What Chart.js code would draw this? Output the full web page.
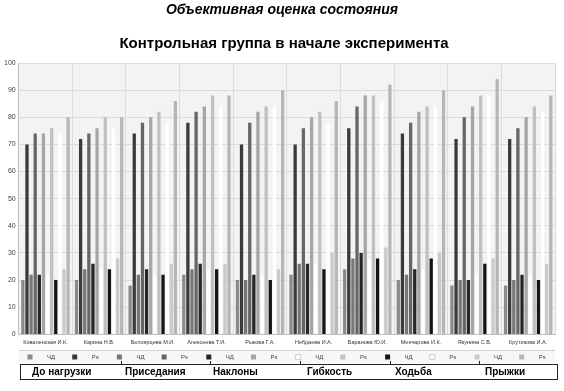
<!DOCTYPE html>
<html>
<head>
<meta charset="utf-8">
<script src="https://cdn.jsdelivr.net/npm/chart.js@4"></script>
<style>
  html, body { margin: 0; padding: 0; background: #fff; }
  #wrap { width: 564px; height: 391px; position: relative; }
</style>
</head>
<body>
<div id="wrap"><canvas id="chart" width="564" height="391"></canvas></div>
<script>
// данные
let categories = ['Коваленская И.К.', 'Карина Н.В.', 'Белоярцева М.И.', 'Алексеева Т.И.', 'Рыкова Г.А.',
  'Небдаева И.А.', 'Баранова Ю.И.', 'Менчарова И.К.', 'Якунина С.В.', 'Крутикова И.А.'];
let phases = ['До нагрузки', 'Приседания', 'Наклоны', 'Гибкость', 'Ходьба', 'Прыжки'];
let yTicks = [0, 10, 20, 30, 40, 50, 60, 70, 80, 90, 100];

let chdRest = [20, 20, 18, 22, 20, 22, 24, 20, 18, 18];
let psRest = [70, 72, 74, 78, 70, 70, 76, 74, 72, 72];
let chdSquat = [22, 24, 22, 24, 20, 26, 28, 22, 20, 20];
let psSquat = [74, 74, 78, 82, 78, 76, 84, 78, 80, 76];
let chdBend = [22, 26, 24, 26, 22, 26, 30, 24, 20, 22];
let psBend = [74, 76, 80, 84, 82, 80, 88, 82, 84, 80];
let chdFlex = [22, 24, 22, 24, 22, 26, 28, 24, 22, 22];
let psFlex = [76, 80, 82, 88, 84, 82, 88, 84, 88, 84];
let chdWalk = [20, 24, 22, 24, 20, 24, 28, 28, 26, 20];
let psWalk = [74, 76, 78, 84, 84, 78, 86, 84, 88, 82];
let chdJump = [24, 28, 26, 26, 24, 30, 32, 30, 28, 26];
let psJump = [80, 80, 86, 88, 90, 86, 92, 90, 94, 88];

let seriesData = [chdRest, psRest, chdSquat, psSquat, chdBend, psBend, chdFlex, psFlex, chdWalk, psWalk, chdJump, psJump];
let seriesNames = ['ЧД', 'Рs', 'ЧД', 'Рs', 'ЧД', 'Рs', 'ЧД', 'Рs', 'ЧД', 'Рs', 'ЧД', 'Рs'];
let seriesColors = ['#8a8a8a', '#3a3a3a', '#777777', '#666666', '#262626', '#a6a6a6',
  '#ffffff', '#c0c0c0', '#141414', '#ffffff', '#cacaca', '#b6b6b6'];

let datasets = seriesData.map((d, i) => ({
  label: seriesNames[i] + ' ' + phases[Math.floor(i / 2)],
  data: d,
  backgroundColor: seriesColors[i],
  borderWidth: 0,
  barPercentage: 0.8,
  categoryPercentage: 0.92
}));

let extras = {
  id: 'extras',
  beforeDraw: chart => {
    let ctx = chart.ctx;
    let a = chart.chartArea;
    ctx.save();
    ctx.fillStyle = '#fff';
    ctx.fillRect(0, 0, chart.width, chart.height);
    ctx.fillStyle = '#f3f3f3';
    ctx.fillRect(a.left, a.top, a.right - a.left, a.bottom - a.top);
    ctx.restore();
  },
  afterDraw: chart => {
    let ctx = chart.ctx;
    let a = chart.chartArea;
    ctx.save();
    ctx.fillStyle = '#000';
    ctx.textAlign = 'center';
    ctx.textBaseline = 'middle';
    ctx.font = 'italic bold 14px "Liberation Sans", Arial, sans-serif';
    ctx.fillText('Объективная оценка состояния', 282, 10);
    ctx.font = 'bold 15px "Liberation Sans", Arial, sans-serif';
    ctx.fillText('Контрольная группа в начале эксперимента', 284, 44);

    // легенда
    ctx.fillStyle = '#f7f7f7';
    ctx.fillRect(a.left, 351, a.right - a.left, 12);
    ctx.strokeStyle = '#d0d0d0';
    ctx.lineWidth = 1;
    ctx.beginPath();
    ctx.moveTo(a.left, 350.5);
    ctx.lineTo(a.right, 350.5);
    ctx.stroke();
    ctx.font = '6px "Liberation Sans", Arial, sans-serif';
    ctx.textAlign = 'left';
    seriesNames.forEach((name, i) => {
      let x = 30 + i * 44.7;
      ctx.fillStyle = seriesColors[i];
      ctx.fillRect(x - 2.5, 354.5, 5, 5);
      if (seriesColors[i] == '#ffffff') {
        ctx.strokeStyle = '#cfcfcf';
        ctx.strokeRect(x - 2.5, 354.5, 5, 5);
      }
      ctx.fillStyle = '#444';
      ctx.fillText(name, x + 17, 357.5);
    });

    // этапы
    ctx.strokeStyle = '#222';
    ctx.lineWidth = 1;
    ctx.strokeRect(20.5, 364.5, 537, 15);
    let seps = [121, 210, 300, 390, 479];
    ctx.beginPath();
    seps.forEach(s => {
      ctx.moveTo(s + 0.5, 361);
      ctx.lineTo(s + 0.5, 365);
    });
    ctx.stroke();
    ctx.fillStyle = '#000';
    ctx.font = 'bold 10px "Liberation Sans", Arial, sans-serif';
    let starts = [32, 125, 213, 307, 395, 485];
    phases.forEach((p, i) => {
      ctx.fillText(p, starts[i], 372);
    });
    ctx.restore();
  }
};

let chartCtx = document.getElementById('chart').getContext('2d');
let chart = new Chart(chartCtx, {
  type: 'bar',
  data: { labels: categories, datasets: datasets },
  options: {
    responsive: false,
    animation: false,
    layout: { padding: { top: 63, left: 1, right: 9, bottom: 40 } },
    plugins: {
      legend: { display: false },
      title: { display: false },
      tooltip: { enabled: false }
    },
    scales: {
      x: {
        offset: true,
        grid: { display: true, offset: true, color: '#dcdcdc', drawTicks: false },
        border: { color: '#bdbdbd' },
        ticks: { color: '#333', font: { size: 5.5, family: '"Liberation Sans", Arial' }, padding: 5, maxRotation: 0, autoSkip: false }
      },
      y: {
        min: 0,
        max: 100,
        afterBuildTicks: axis => { axis.ticks = yTicks.map(v => ({ value: v })); },
        grid: { color: '#dcdcdc', drawTicks: false },
        border: { color: '#bdbdbd' },
        ticks: { color: '#444', font: { size: 7, family: '"Liberation Sans", Arial' }, padding: 3 }
      }
    }
  },
  plugins: [extras]
});
</script>
</body>
</html>
